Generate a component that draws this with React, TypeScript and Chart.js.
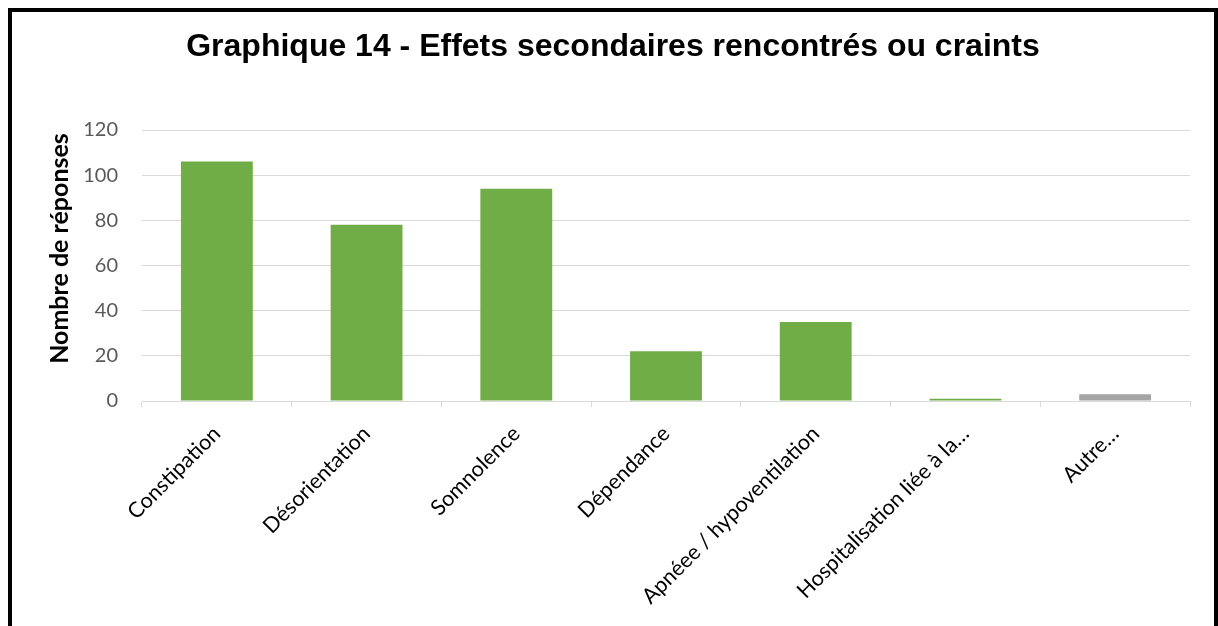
import React, { useEffect, useRef } from "react";
import { Chart, registerables } from "chart.js";

Chart.register(...registerables);

const TITLE = "Graphique 14 - Effets secondaires rencontrés ou craints";
const Y_TITLE = "Nombre de réponses";
const categories = [
  "Constipation",
  "Désorientation",
  "Somnolence",
  "Dépendance",
  "Apnéee / hypoventilation",
  "Hospitalisation liée à la…",
  "Autre…",
];
const values = [106, 78, 94, 22, 35, 1, 3];
const barColors = ["#70AD47", "#70AD47", "#70AD47", "#70AD47", "#70AD47", "#70AD47", "#A5A5A5"];
const Y_MAX = 120;
const Y_STEP = 20;

const yTitlePlugin = {
  id: "yTitlePlugin",
  afterDraw(chart: any) {
    const { ctx, chartArea } = chart;
    ctx.save();
    ctx.font = "bold 25px Lato";
    ctx.fillStyle = "#000000";
    ctx.textAlign = "center";
    ctx.textBaseline = "middle";
    ctx.translate(48, (chartArea.top + chartArea.bottom) / 2 - 17);
    ctx.rotate(-Math.PI / 2);
    ctx.fillText(Y_TITLE, 0, 0);
    ctx.restore();
  },
};

export default function App() {
  const ref = useRef<HTMLCanvasElement | null>(null);
  useEffect(() => {
    if (!ref.current) return;
    const chart = new Chart(ref.current, {
      type: "bar",
      data: {
        labels: categories,
        datasets: [
          {
            data: values,
            backgroundColor: barColors,
            categoryPercentage: 1,
            barPercentage: 0.48,
          },
        ],
      },
      options: {
        responsive: false,
        animation: false,
        layout: { padding: { left: 24, right: 24, top: 0, bottom: 0 } },
        plugins: {
          legend: { display: false },
          tooltip: { enabled: false },
          title: {
            display: true,
            text: TITLE,
            color: "#000000",
            font: { family: "Liberation Sans", size: 32, weight: "bold" },
            padding: { top: 16, bottom: 63.6 },
          },
        },
        scales: {
          x: {
            afterFit: (scale: any) => {
              scale.height = 225;
            },
            grid: {
              offset: true,
              drawOnChartArea: false,
              drawTicks: true,
              tickLength: 6,
              color: "#D9D9D9",
              lineWidth: 1,
            },
            border: { display: true, color: "#D9D9D9", width: 1 },
            ticks: {
              color: "#000000",
              font: { family: "Lato", size: 21.5 },
              maxRotation: 45,
              minRotation: 45,
              autoSkip: false,
              padding: 14,
            },
          },
          y: {
            min: 0,
            max: Y_MAX,
            afterFit: (scale: any) => {
              scale.width = 106;
            },
            grid: { color: "#D9D9D9", drawTicks: false, lineWidth: 1 },
            border: { display: false },
            ticks: {
              stepSize: Y_STEP,
              color: "#595959",
              font: { family: "Lato", size: 20 },
              padding: 24,
            },
          },
        },
      },
      plugins: [yTitlePlugin],
    });
    return () => chart.destroy();
  }, []);
  return (
    <div
      style={{
        position: "fixed",
        left: 8,
        top: 8,
        width: 1210,
        height: 640,
        border: "4px solid #000",
        boxSizing: "border-box",
        background: "#fff",
      }}
    >
      <canvas ref={ref} width={1202} height={614} style={{ display: "block" }} />
    </div>
  );
}
